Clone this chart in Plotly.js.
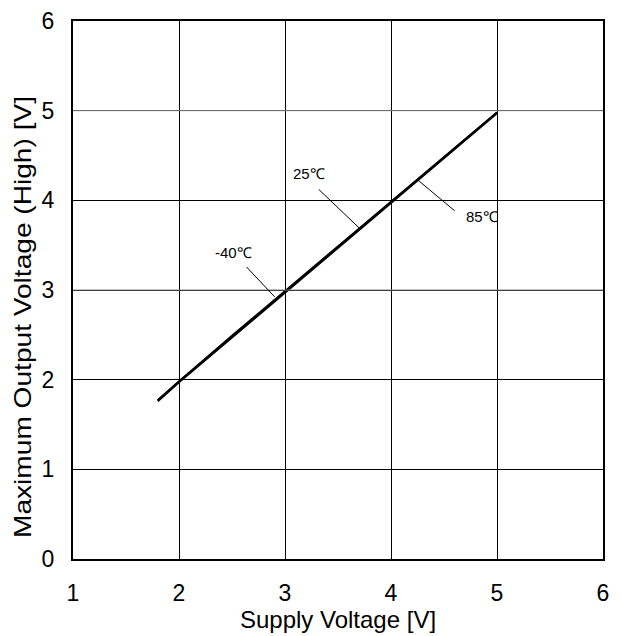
<!DOCTYPE html>
<html>
<head>
<meta charset="utf-8">
<script src="https://cdn.plot.ly/plotly-3.0.1.min.js"></script>
<style>html,body{margin:0;padding:0;background:#fff;}#chart{width:623px;height:636px;}</style>
</head>
<body>
<div id="chart"></div>
<script>
var supplyV = [1.8, 2.0, 2.5, 3.0, 3.5, 4.0, 4.5, 5.0];
var vohM40 = [1.77, 1.98, 2.48, 2.98, 3.48, 3.98, 4.48, 4.98];
var voh25  = [1.77, 1.98, 2.49, 2.99, 3.49, 3.99, 4.49, 4.98];
var voh85  = [1.76, 1.97, 2.47, 2.97, 3.47, 3.97, 4.47, 4.97];
var seriesNames = ["-40℃", "25℃", "85℃"];
var xTicks = [1, 2, 3, 4, 5, 6];
var yTicks = [0, 1, 2, 3, 4, 5, 6];

var lineStyle = {color: "#000", width: 2};
var traces = [vohM40, voh25, voh85].map(function (ys, i) {
  return {x: supplyV, y: ys, mode: "lines", name: seriesNames[i], line: lineStyle, hoverinfo: "skip"};
});

var fam = "Liberation Sans, Arial, sans-serif";
var tickFont = {family: fam, size: 23, color: "#000"};
var titleFont = {family: fam, size: 24, color: "#000"};
var annFont = {family: fam, size: 15, color: "#000"};
var layout = {
  width: 623, height: 636,
  margin: {l: 73, r: 20, t: 21, b: 77},
  paper_bgcolor: "#fff", plot_bgcolor: "#fff",
  showlegend: false,
  font: tickFont,
  xaxis: {
    range: [1, 6], tickvals: xTicks, ticktext: xTicks.map(String),
    showgrid: true, gridcolor: "#000", gridwidth: 1,
    zeroline: false, showline: true, linecolor: "#000", linewidth: 2, mirror: true,
    ticks: "", ticklabelstandoff: 12, tickfont: tickFont,
    title: {text: "Supply Voltage [V]", font: titleFont, standoff: 0}
  },
  yaxis: {
    range: [0, 6], tickvals: yTicks, ticktext: yTicks.map(String),
    showgrid: true, gridcolor: "#000", gridwidth: 1,
    zeroline: false, showline: true, linecolor: "#000", linewidth: 2, mirror: true,
    ticks: "", ticklabelstandoff: 12, tickfont: tickFont,
    title: {text: "Maximum Output Voltage (High) [V]", font: titleFont, standoff: 3}
  },
  shapes: [
    {type: "line", xref: "paper", x0: 0, x1: 1, yref: "y", y0: 3, y1: 3, line: {color: "#808080", width: 1}},
    {type: "line", xref: "paper", x0: 0, x1: 1, yref: "y", y0: 5, y1: 5, line: {color: "#808080", width: 1}},
    {type: "line", x0: 2.636, y0: 3.258, x1: 2.903, y1: 2.923, line: {color: "#000", width: 1}},
    {type: "line", x0: 3.318, y0: 4.122, x1: 3.705, y1: 3.686, line: {color: "#000", width: 1}},
    {type: "line", x0: 4.255, y0: 4.225, x1: 4.601, y1: 3.883, line: {color: "#000", width: 1}}
  ],
  annotations: [
    {x: 2.516, y: 3.414, text: seriesNames[0], showarrow: false, font: annFont},
    {x: 3.224, y: 4.304, text: seriesNames[1], showarrow: false, font: annFont},
    {x: 4.855, y: 3.82, text: seriesNames[2], showarrow: false, font: annFont}
  ]
};
Plotly.newPlot("chart", traces, layout, {staticPlot: true, displayModeBar: false}).then(function (gd) {
  var t = gd.querySelector(".g-ytitle text");
  if (t) {
    t.setAttribute("textLength", "442");
    t.setAttribute("lengthAdjust", "spacingAndGlyphs");
    var tr = t.getAttribute("transform") || "";
    t.setAttribute("transform", "translate(0,27) " + tr);
  }
});
</script>
</body>
</html>
